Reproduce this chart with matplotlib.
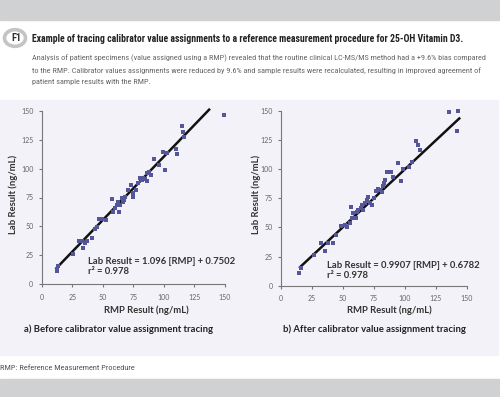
import matplotlib
matplotlib.use("Agg")
import matplotlib.pyplot as plt
from matplotlib.patches import Rectangle, Circle
from matplotlib import font_manager

fl = font_manager.fontManager.ttflist
names = {f.name for f in fl}
has_dv_cond = any(f.name == "DejaVu Sans" and f.stretch == "condensed" for f in fl)
if "Liberation Sans Narrow" in names:
    NARROW = dict(family="Liberation Sans Narrow")
elif "Roboto Condensed" in names:
    NARROW = dict(family="Roboto Condensed")
elif has_dv_cond:
    NARROW = dict(family="DejaVu Sans", fontstretch="condensed")
else:
    NARROW = dict(family="Liberation Sans")

# ---- data ----
ticks = [0, 25, 50, 75, 100, 125, 150]

before_rmp = [12.3, 12.8, 13.6, 25.4, 30.8, 32.7, 33.5, 35.4, 37.4, 41.0, 43.6, 45.0, 47.2, 49.1,
              52.6, 57.3, 58.6, 61.4, 62.7, 63.0, 64.1, 65.5, 66.8, 68.2, 70.9, 72.8, 74.4, 75.0,
              77.2, 79.1, 80.4, 83.2, 84.5, 85.9, 85.9, 88.1, 89.2, 91.9, 96.3, 99.0, 100.9,
              102.3, 109.9, 110.5, 114.5, 115.4, 116.7, 149.2, 60.0, 67.0, 87.0, 82.0]
before_lab = [13.5, 11.5, 15.8, 26.2, 37.7, 37.7, 31.1, 36.0, 37.7, 39.7, 47.5, 49.8, 56.7, 56.7,
              55.6, 74.0, 62.8, 68.2, 71.4, 62.8, 68.5, 74.3, 71.4, 75.7, 81.5, 85.5, 78.6, 75.7,
              81.5, 87.8, 91.6, 91.6, 90.7, 95.9, 89.6, 97.3, 94.4, 108.0, 103.0, 114.3, 98.8,
              113.7, 116.6, 112.6, 137.0, 131.9, 127.6, 146.3, 66.0, 73.0, 96.0, 90.0]
before_fit = [12.0, 137.0]
before_slope, before_icpt = 1.096, 0.7502

after_rmp = [14.8, 15.9, 26.7, 32.0, 35.7, 38.0, 41.7, 44.4, 48.2, 51.7, 53.0, 55.8, 56.3, 57.1,
             58.4, 60.6, 61.1, 62.5, 64.6, 65.4, 67.9, 69.2, 70.6, 71.9, 73.3, 75.1, 76.8, 78.6,
             80.0, 81.3, 82.7, 84.0, 85.4, 88.6, 90.2, 94.8, 96.7, 98.8, 103.7, 105.6, 109.1,
             110.4, 112.3, 135.5, 143.3, 141.9, 66.0, 83.0]
after_lab = [11.1, 14.9, 26.3, 36.9, 29.4, 36.3, 36.3, 43.4, 51.1, 51.7, 50.6, 53.4, 67.7, 57.7,
             62.0, 57.7, 63.4, 64.9, 66.3, 69.1, 70.6, 73.4, 75.7, 71.1, 69.1, 74.9, 81.4, 83.1,
             82.0, 80.6, 85.4, 90.6, 97.7, 97.7, 92.9, 105.4, 90.0, 99.7, 102.0, 106.3, 124.3,
             120.6, 116.3, 149.1, 150.0, 132.6, 65.0, 88.0]
after_fit = [15.4, 144.0]
after_slope, after_icpt = 0.9907, 0.6782

title = "Example of tracing calibrator value assignments to a reference measurement procedure for 25-OH Vitamin D3."
desc = ["Analysis of patient specimens (value assigned using a RMP) revealed that the routine clinical LC-MS/MS method had a +9.6% bias compared",
        "to the RMP. Calibrator values assignments were reduced by 9.6% and sample results were recalculated, resulting in improved agreement of",
        "patient sample results with the RMP."]
footer = "RMP: Reference Measurement Procedure"

W, H = 500, 397
fig = plt.figure(figsize=(W / 100, H / 100), dpi=100)
fig.patch.set_facecolor("white")
renderer = fig.canvas.get_renderer()

def fx(px):
    return px / W

def fy(py):
    return 1 - py / H

def fit_text(t, width_px):
    w = t.get_window_extent(renderer).width
    t.set_fontsize(t.get_fontsize() * width_px / w)
    return t.get_fontsize()

# background bands
fig.add_artist(Rectangle((0, fy(20)), 1, 20 / H, transform=fig.transFigure, color="#d0d1d3", zorder=0))
fig.add_artist(Rectangle((0, fy(355)), fx(498), 255 / H, transform=fig.transFigure, color="#f2f2f8", zorder=0))
fig.add_artist(Rectangle((0, 0), 1, 18 / H, transform=fig.transFigure, color="#d0d1d3", zorder=0))

# F1 badge
fig.add_artist(Circle((fx(15), fy(38)), 10.5 / W, transform=fig.transFigure, fill=False,
                      ec="#c4c4c4", lw=2.6, zorder=1))
fig.text(fx(16), fy(38), "F1", ha="center", va="center", fontsize=7.5, fontweight="bold",
         color="#333333", **NARROW)

tt = fig.text(fx(31.5), fy(38.5), title, ha="left", va="center", fontsize=7.0, fontweight="bold",
              color="#222222", **NARROW)
fit_text(tt, 433)
dts = []
for i, line in enumerate(desc):
    dts.append(fig.text(fx(31.5), fy(58.5 + 11.7 * i), line, ha="left", va="center", fontsize=6.1,
                        color="#666666", **NARROW))
ds = fit_text(dts[0], 460)
for d in dts[1:]:
    d.set_fontsize(ds)

ft = fig.text(fx(0), fy(368), footer, ha="left", va="center", fontsize=5.8, color="#555555", **NARROW)
fit_text(ft, 134)

panels = [
    dict(rect=(41.7, 110.7, 225.0, 284.3), xs=before_rmp, ys=before_lab, fit=before_fit,
         m=before_slope, b=before_icpt,
         eq="Lab Result = 1.096 [RMP] + 0.7502", eqpos=(87.7, 261.7),
         xlab=(146.7, 310.7), ylab=(13.3, 194), cap="a) Before calibrator value assignment tracing",
         cappos=(24, 329)),
    dict(rect=(281.0, 110.7, 466.7, 285.7), xs=after_rmp, ys=after_lab, fit=after_fit,
         m=after_slope, b=after_icpt,
         eq="Lab Result = 0.9907 [RMP] + 0.6782", eqpos=(327.3, 265.0),
         xlab=(389.0, 310.7), ylab=(256.0, 194), cap="b) After calibrator value assignment tracing",
         cappos=(283, 329)),
]

for p in panels:
    x0, y0, x1, y1 = p["rect"]
    ax = fig.add_axes([fx(x0), fy(y1), (x1 - x0) / W, (y1 - y0) / H])
    ax.set_facecolor("none")
    ax.set_xlim(0, 150)
    ax.set_ylim(0, 150)
    ax.set_xticks(ticks)
    ax.set_yticks(ticks)
    for s in ["top", "right"]:
        ax.spines[s].set_visible(False)
    for s in ["left", "bottom"]:
        ax.spines[s].set_color("#777777")
        ax.spines[s].set_linewidth(0.8)
    ax.tick_params(length=2.5, width=0.8, color="#777777", labelsize=5.0, labelcolor="#666666")
    ax.tick_params(axis="y", pad=3.5)
    ax.tick_params(axis="x", pad=4.5)
    for lab in ax.get_xticklabels() + ax.get_yticklabels():
        lab.set_family("Lato")
    fx0, fx1 = p["fit"]
    ax.plot([fx0, fx1], [p["m"] * fx0 + p["b"], p["m"] * fx1 + p["b"]], color="#111111", lw=1.8,
            zorder=2, clip_on=False)
    ax.scatter(p["xs"], p["ys"], marker="s", s=7, color="#55559a", linewidths=0, zorder=3,
               clip_on=False)
    ex, ey = p["eqpos"]
    fig.text(fx(ex), fy(ey), p["eq"], ha="left", va="center", fontsize=6.8, fontweight="bold",
             color="#333333", family="Lato")
    fig.text(fx(ex), fy(ey + 10), "r² = 0.978", ha="left", va="center", fontsize=6.8,
             fontweight="bold", color="#333333", family="Lato")
    lx, ly = p["xlab"]
    fig.text(fx(lx), fy(ly), "RMP Result (ng/mL)", ha="center", va="center", fontsize=6.8,
             fontweight="bold", color="#333333", family="Lato")
    yx, yy = p["ylab"]
    fig.text(fx(yx), fy(yy), "Lab Result (ng/mL)", ha="center", va="center", rotation=90,
             fontsize=6.8, fontweight="bold", color="#333333", family="Lato")
    cx, cy = p["cappos"]
    fig.text(fx(cx), fy(cy), p["cap"], ha="left", va="center", fontsize=6.8, fontweight="bold",
             color="#222222", family="Lato")

fig.savefig("out.png", dpi=100, facecolor="white")
